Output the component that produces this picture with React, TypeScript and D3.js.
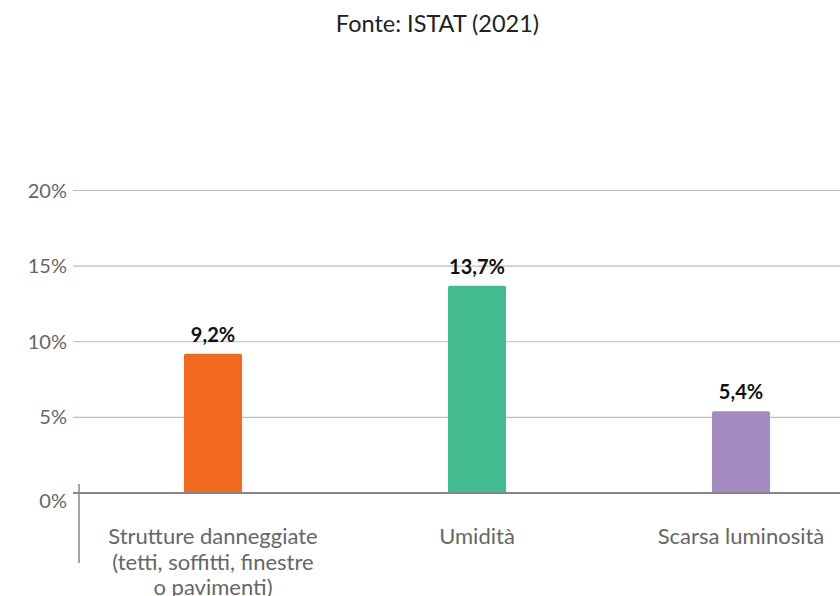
import React from "react";
import * as d3 from "d3";

const title = "Fonte: ISTAT (2021)";
const categories = ["Strutture danneggiate", "Umidità", "Scarsa luminosità"];
const categoryLines = [
  ["Strutture danneggiate", "(tetti, soffitti, finestre", "o pavimenti)"],
  ["Umidità"],
  ["Scarsa luminosità"],
];
const values = [9.2, 13.7, 5.4];
const valueLabels = ["9,2%", "13,7%", "5,4%"];
const colors = ["#F26A22", "#42BC8E", "#A38AC0"];
const ticks = [0, 5, 10, 15, 20];
const tickLabels = ["0%", "5%", "10%", "15%", "20%"];

const W = 840;
const H = 596;
const FONT = "Lato, 'Open Sans', sans-serif";

export default function App() {
  const y = d3.scaleLinear().domain([0, 20]).range([493, 190.5]);
  const x = d3
    .scaleBand<string>()
    .domain(categories)
    .range([81, 873])
    .paddingInner(0.78)
    .paddingOuter(0.39);

  return (
    <svg
      width={W}
      height={H}
      style={{ position: "absolute", left: 0, top: 0, background: "#fff" }}
      fontFamily={FONT}
    >
      <text x={437.5} y={32} textAnchor="middle" fontSize={23.5} fill="#222">
        {title}
      </text>
      {ticks.map((t) =>
        t === 0 ? null : (
          <line key={"g" + t} x1={73} x2={W} y1={y(t)} y2={y(t)} stroke="#bdbdbd" strokeWidth={1.2} />
        )
      )}
      {ticks.map((t, i) => (
        <text
          key={"t" + t}
          x={67}
          y={y(t) + (t === 0 ? 15 : 7)}
          textAnchor="end"
          fontSize={20}
          fill="#666"
        >
          {tickLabels[i]}
        </text>
      ))}
      {categories.map((c, i) => (
        <rect
          key={"b" + c}
          x={x(c)}
          y={y(values[i])}
          width={x.bandwidth()}
          height={y(0) - y(values[i])}
          fill={colors[i]}
          rx={2}
        />
      ))}
      <line x1={73} x2={W} y1={y(0)} y2={y(0)} stroke="#858585" strokeWidth={2.2} />
      <line x1={79} x2={79} y1={484} y2={563} stroke="#858585" strokeWidth={1.5} />
      {categories.map((c, i) => (
        <text
          key={"v" + c}
          x={(x(c) as number) + x.bandwidth() / 2}
          y={y(values[i]) - 12}
          textAnchor="middle"
          fontSize={20}
          fontWeight="bold"
          fill="#111"
        >
          {valueLabels[i]}
        </text>
      ))}
      {categories.map((c, i) => (
        <text
          key={"c" + c}
          x={(x(c) as number) + x.bandwidth() / 2}
          y={544}
          textAnchor="middle"
          fontSize={22}
          fill="#666"
        >
          {categoryLines[i].map((l, j) => (
            <tspan key={j} x={(x(c) as number) + x.bandwidth() / 2} dy={j === 0 ? 0 : 25.5}>
              {l}
            </tspan>
          ))}
        </text>
      ))}
    </svg>
  );
}
